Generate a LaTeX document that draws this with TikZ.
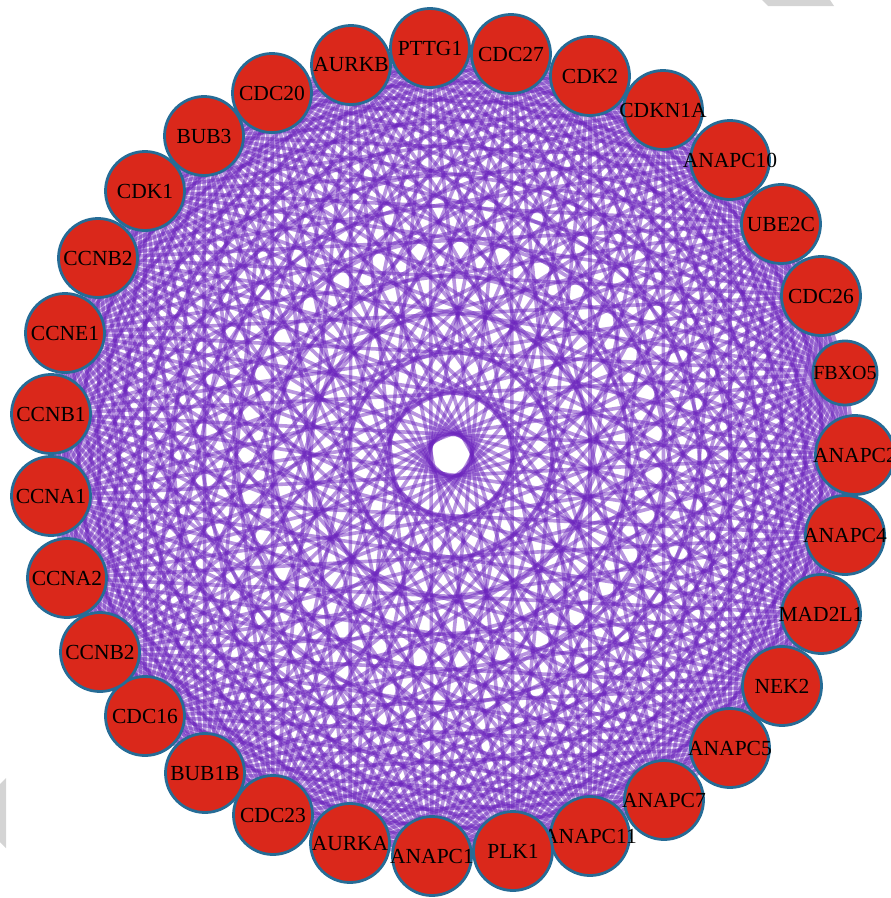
\documentclass[tikz,border=0pt]{standalone}
\usepackage{fontspec}
\setmainfont{Liberation Serif}
\usepackage{tikz}
\usepackage{xcolor}
\usetikzlibrary{backgrounds}
\definecolor{genered}{RGB}{218,40,27}
\definecolor{generim}{RGB}{38,108,150}
\definecolor{linkpurple}{RGB}{106,34,188}
\definecolor{scangray}{RGB}{212,212,212}
\tikzset{
  genenode/.style={
    circle,
    draw=generim,
    fill=genered,
    line width=2.8pt,
    inner sep=0pt,
    minimum size=79pt,
    text=black,
    font=\fontsize{21.5}{24}\selectfont
  },
  smallgene/.style={genenode, minimum size=64pt, font=\fontsize{20}{22}\selectfont},
  linkline/.style={draw=linkpurple, line width=3.6pt, opacity=0.48}
}
\newcommand{\gname}[1]{\makebox[0pt][c]{#1}}

\begin{document}
\begin{tikzpicture}[x=1pt,y=-1pt]
\useasboundingbox (0,0) rectangle (891,898);
% scan artefacts at the corners
\fill[scangray] (762,0) -- (830,0) -- (834,6) -- (768,6) -- cycle;
\fill[scangray] (0,784) -- (6,778) -- (6,848) -- (0,842) -- cycle;

\node[genenode] (g1) at (430,48) {\gname{PTTG1}};
\node[genenode] (g2) at (511,54) {\gname{CDC27}};
\node[genenode] (g3) at (590,76) {\gname{CDK2}};
\node[genenode] (g4) at (663,110) {\gname{CDKN1A}};
\node[genenode] (g5) at (730,160) {\gname{ANAPC10}};
\node[genenode] (g6) at (781,224) {\gname{UBE2C}};
\node[genenode] (g7) at (821,296) {\gname{CDC26}};
\node[smallgene] (g8) at (845,373) {\gname{FBXO5}};
\node[genenode] (g9) at (855,455) {\gname{ANAPC2}};
\node[genenode] (g10) at (845,535) {\gname{ANAPC4}};
\node[genenode] (g11) at (821,614) {\gname{MAD2L1}};
\node[genenode] (g12) at (782,686) {\gname{NEK2}};
\node[genenode] (g13) at (730,748) {\gname{ANAPC5}};
\node[genenode] (g14) at (664,800) {\gname{ANAPC7}};
\node[genenode] (g15) at (590,836) {\gname{ANAPC11}};
\node[genenode] (g16) at (513,851) {\gname{PLK1}};
\node[genenode] (g17) at (432,856) {\gname{ANAPC1}};
\node[genenode] (g18) at (350,843) {\gname{AURKA}};
\node[genenode] (g19) at (273,815) {\gname{CDC23}};
\node[genenode] (g20) at (205,773) {\gname{BUB1B}};
\node[genenode] (g21) at (145,716) {\gname{CDC16}};
\node[genenode] (g22) at (100,652) {\gname{CCNB2}};
\node[genenode] (g23) at (67,578) {\gname{CCNA2}};
\node[genenode] (g24) at (51,496) {\gname{CCNA1}};
\node[genenode] (g25) at (51,414) {\gname{CCNB1}};
\node[genenode] (g26) at (65,333) {\gname{CCNE1}};
\node[genenode] (g27) at (98,258) {\gname{CCNB2}};
\node[genenode] (g28) at (145,191) {\gname{CDK1}};
\node[genenode] (g29) at (204,136) {\gname{BUB3}};
\node[genenode] (g30) at (272,93) {\gname{CDC20}};
\node[genenode] (g31) at (351,65) {\gname{AURKB}};

% every gene linked to every other gene
\begin{scope}[on background layer]
\foreach \i in {1,...,30}{
  \pgfmathtruncatemacro{\k}{\i+1}
  \foreach \j in {\k,...,31}
    \draw[linkline] (g\i.center) -- (g\j.center);
}
\end{scope}
\end{tikzpicture}
\end{document}
